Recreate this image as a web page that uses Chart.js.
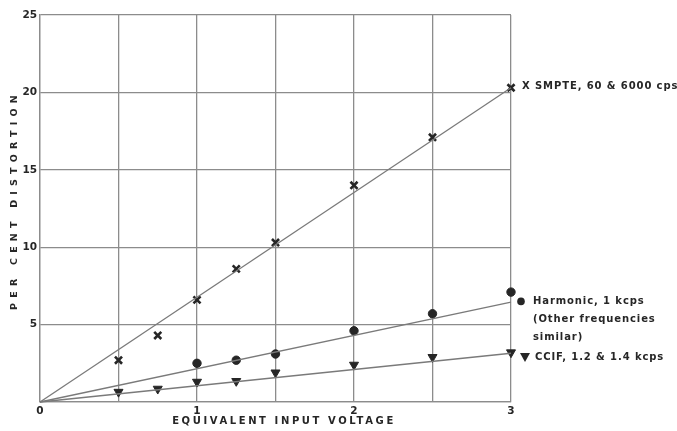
<!DOCTYPE html>
<html><head><meta charset="utf-8">
<script src="https://cdn.jsdelivr.net/npm/chart.js@4"></script>
<style>html,body{margin:0;padding:0;background:#fff}#wrap{width:677px;height:431px}</style>
</head><body><div id="wrap"><canvas id="c" width="677" height="431"></canvas></div>
<script>
// Data
const smpteX = [0.5, 0.75, 1, 1.25, 1.5, 2, 2.5, 3];
const smpte = [2.7, 4.3, 6.6, 8.6, 10.3, 14.0, 17.1, 20.3];
const harmonicX = [1, 1.25, 1.5, 2, 2.5, 3];
const harmonic = [2.5, 2.7, 3.1, 4.6, 5.7, 7.1];
const ccifX = [0.5, 0.75, 1, 1.25, 1.5, 2, 2.5, 3];
const ccif = [0.65, 0.85, 1.3, 1.35, 1.9, 2.4, 2.9, 3.2];
const fitX = [0, 3];
const smpteFit = [0, 20.3];
const harmonicFit = [0, 6.45];
const ccifFit = [0, 3.15];
const yTickValues = [0, 5, 10, 15, 20, 25];
const xTickLabels = [0, 1, 2, 3];
const xTitle = 'EQUIVALENT INPUT VOLTAGE';
const yTitle = 'PER CENT DISTORTION';
const smpteLabel = ['X SMPTE, 60 & 6000 cps'];
const harmonicLabel = ['Harmonic, 1 kcps', '(Other frequencies', 'similar)'];
const ccifLabel = ['CCIF, 1.2 & 1.4 kcps'];

const pts = (xs, ys) => xs.map((x, i) => ({x, y: ys[i]}));
const ink = '#262626';
const gridCol = '#8c8c8c';
const lineCol = '#7a7a7a';

const labelsPlugin = {
  id: 'labels',
  afterDraw(chart) {
    const ctx = chart.ctx, xs = chart.scales.x, ys = chart.scales.y;
    ctx.save();
    ctx.fillStyle = ink;
    // x title
    ctx.font = 'bold 10px "DejaVu Sans"';
    ctx.letterSpacing = '2.6px';
    ctx.textAlign = 'center';
    ctx.textBaseline = 'middle';
    ctx.fillText(xTitle, 284, 421);
    // y title
    ctx.save();
    ctx.translate(15, 200);
    ctx.rotate(-Math.PI / 2);
    ctx.font = 'bold 9.5px "DejaVu Sans"';
    ctx.letterSpacing = '5.2px';
    ctx.fillText(yTitle, 0, 0);
    ctx.restore();
    // series labels
    ctx.letterSpacing = '0.9px';
    ctx.textAlign = 'left';
    ctx.font = 'bold 10px "DejaVu Sans"';
    const x0 = xs.right;
    ctx.fillText(smpteLabel[0], x0 + 11, ys.getPixelForValue(20.3) - 1);
    const hy = ys.getPixelForValue(6.5);
    ctx.beginPath(); ctx.arc(x0 + 10, hy, 3.8, 0, Math.PI * 2); ctx.fill();
    ctx.fillText(harmonicLabel[0], x0 + 22, hy);
    ctx.fillText(harmonicLabel[1], x0 + 22, hy + 18);
    ctx.fillText(harmonicLabel[2], x0 + 22, hy + 36);
    const cy = ys.getPixelForValue(2.9);
    ctx.beginPath();
    ctx.moveTo(x0 + 9, cy - 4); ctx.lineTo(x0 + 19, cy - 4); ctx.lineTo(x0 + 14, cy + 5);
    ctx.closePath(); ctx.fill();
    ctx.fillText(ccifLabel[0], x0 + 24, cy);
    ctx.restore();
  }
};

new Chart(document.getElementById('c'), {
  type: 'scatter',
  data: {
    datasets: [
      {data: pts(fitX, smpteFit), showLine: true, borderColor: lineCol, borderWidth: 1.3, pointRadius: 0, clip: false},
      {data: pts(fitX, harmonicFit), showLine: true, borderColor: lineCol, borderWidth: 1.3, pointRadius: 0, clip: false},
      {data: pts(fitX, ccifFit), showLine: true, borderColor: lineCol, borderWidth: 1.3, pointRadius: 0, clip: false},
      {data: pts(smpteX, smpte), pointStyle: 'crossRot', pointRadius: 5, borderColor: ink, borderWidth: 2.6, backgroundColor: ink, clip: false},
      {data: pts(harmonicX, harmonic), pointStyle: 'circle', pointRadius: 4.2, borderColor: ink, borderWidth: 1, backgroundColor: ink, clip: false},
      {data: pts(ccifX, ccif), pointStyle: 'triangle', rotation: 180, pointRadius: 5.2, borderColor: ink, borderWidth: 1, backgroundColor: ink, clip: false}
    ]
  },
  options: {
    responsive: false,
    animation: false,
    layout: {padding: {top: 15, right: 166, left: 0, bottom: 0}},
    plugins: {legend: {display: false}, tooltip: {enabled: false}},
    scales: {
      x: {
        type: 'linear', min: 0, max: 3,
        afterFit: s => { s.height = 29; },
        grid: {color: gridCol, lineWidth: 1.3, drawTicks: false},
        border: {color: gridCol, width: 1.3},
        ticks: {stepSize: 0.5, padding: 3, color: ink, font: {family: 'DejaVu Sans', weight: 'bold', size: 10.5},
          callback: v => xTickLabels.includes(v) ? String(v) : ''}
      },
      y: {
        type: 'linear', min: 0, max: 25,
        afterFit: s => { s.width = 40; },
        afterBuildTicks: s => { s.ticks = yTickValues.map(v => ({value: v})); },
        grid: {color: gridCol, lineWidth: 1.3, drawTicks: false},
        border: {color: gridCol, width: 1.3},
        ticks: {padding: 3, color: ink, font: {family: 'DejaVu Sans', weight: 'bold', size: 10.5},
          callback: v => v === 0 ? '' : String(v)}
      }
    }
  },
  plugins: [labelsPlugin]
});
</script></body></html>
